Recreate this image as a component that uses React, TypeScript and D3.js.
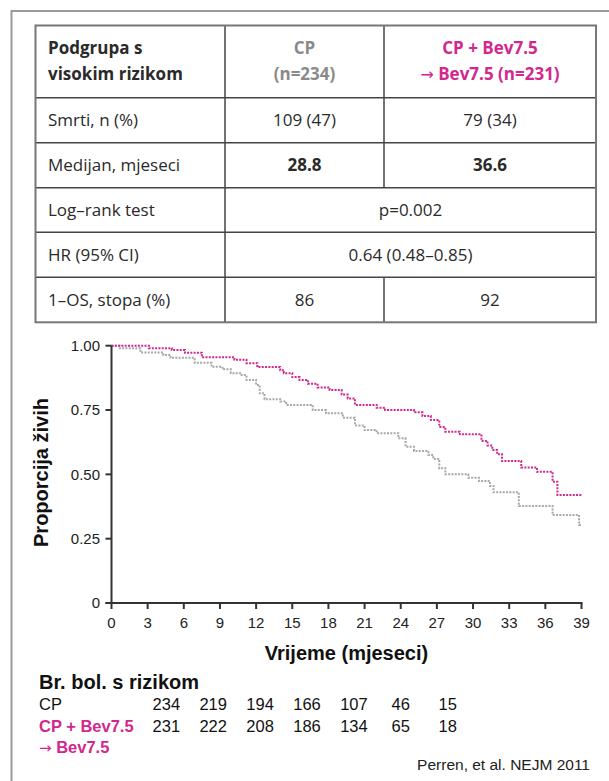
import React from "react";
import * as d3 from "d3";

// ---------- data ----------
const tableRowLabels = ["Smrti, n (%)", "Medijan, mjeseci", "Log–rank test", "HR (95% CI)", "1–OS, stopa (%)"];
const cpValues = ["109 (47)", "28.8", "", "", "86"];
const bevValues = ["79 (34)", "36.6", "", "", "92"];
const spanValues = ["", "", "p=0.002", "0.64 (0.48–0.85)", ""];

const timesCP = [0, 0.7, 2.4, 4.3, 4.9, 6.9, 8.3, 9.2, 9.9, 10.8, 11.2, 12.0, 12.3, 12.7, 14.0, 14.5, 16.7, 17.8, 19.2, 20.2, 21.0, 22.0, 23.8, 24.4, 25.1, 26.3, 26.7, 27.2, 27.7, 29.6, 30.5, 31.4, 31.7, 33.8, 36.6, 38.8, 39];
const survCP = [1.0, 0.99, 0.974, 0.964, 0.953, 0.934, 0.918, 0.908, 0.893, 0.886, 0.867, 0.847, 0.815, 0.792, 0.783, 0.770, 0.750, 0.737, 0.720, 0.690, 0.672, 0.660, 0.640, 0.607, 0.591, 0.575, 0.560, 0.524, 0.500, 0.487, 0.474, 0.455, 0.430, 0.377, 0.342, 0.303, 0.303];

const timesBev = [0, 3.1, 5.0, 6.1, 7.5, 10.2, 11.2, 12.1, 14.0, 14.3, 15.0, 15.6, 16.3, 17.1, 18.1, 19.1, 19.6, 20.2, 22.0, 22.7, 25.1, 25.8, 26.5, 27.2, 27.7, 28.9, 30.7, 31.2, 31.6, 32.0, 32.4, 34.0, 35.3, 36.6, 37.0, 39];
const survBev = [1.0, 0.990, 0.983, 0.973, 0.955, 0.945, 0.932, 0.917, 0.905, 0.893, 0.878, 0.867, 0.852, 0.838, 0.828, 0.810, 0.795, 0.770, 0.759, 0.750, 0.741, 0.727, 0.711, 0.684, 0.666, 0.656, 0.630, 0.612, 0.595, 0.578, 0.552, 0.527, 0.510, 0.471, 0.420, 0.420];

const xTicks = [0, 3, 6, 9, 12, 15, 18, 21, 24, 27, 30, 33, 36, 39];
const yTicks = [0, 0.25, 0.5, 0.75, 1.0];
const yTickLabels = ["0", "0.25", "0.50", "0.75", "1.00"];

const riskCP = [234, 219, 194, 166, 107, 46, 15];
const riskBev = [231, 222, 208, 186, 134, 65, 18];

// ---------- style ----------
const MAGENTA = "#d2288e";
const GRAY_TXT = "#8a8a8a";
const TFONT = "'Open Sans', 'Noto Sans', sans-serif";
const AFONT = "'Liberation Sans', Arial, sans-serif";
const ARROWFONT = "'DejaVu Sans', sans-serif";

export default function App() {
  const W = 609, H = 781;
  // table geometry
  const tL = 35.5, tR = 596, tT = 25.5;
  const colX = [tL, 225, 384, tR];
  const rowY = [tT, 97.7, 142.7, 187.7, 232.3, 277.3, 322.3];

  // plot scales
  const x = d3.scaleLinear().domain([0, 39]).range([111.5, 581.5]);
  const y = d3.scaleLinear().domain([0, 1]).range([603, 345.7]);
  const line = d3.line<[number, number]>()
    .x(d => x(d[0]))
    .y(d => y(d[1]))
    .curve(d3.curveStepAfter);
  const cpPath = line(timesCP.map((t, i) => [t, survCP[i]]) as [number, number][]) || "";
  const bevPath = line(timesBev.map((t, i) => [t, survBev[i]]) as [number, number][]) || "";

  const riskX = d3.scaleLinear().domain([0, 6]).range([166.3, 447.7]);

  const txt = "#2a2a2a";

  return (
    <div style={{ position: "absolute", left: 0, top: 0 }}>
      <svg width={W} height={H} style={{ display: "block", background: "#fff" }}>
        {/* outer frame */}
        <path d={`M11.5,${H} L11.5,11 L${W},11`} fill="none" stroke="#9a9a9a" strokeWidth={2} />

        {/* table inner lines */}
        {rowY.slice(1, -1).map((ry, i) => (
          <line key={"r" + i} x1={tL} x2={tR} y1={ry} y2={ry} stroke="#444" strokeWidth={1.5} />
        ))}
        <line x1={colX[1]} x2={colX[1]} y1={tT} y2={rowY[6]} stroke="#444" strokeWidth={1.5} />
        <line x1={colX[2]} x2={colX[2]} y1={tT} y2={rowY[3]} stroke="#444" strokeWidth={1.5} />
        <line x1={colX[2]} x2={colX[2]} y1={rowY[5]} y2={rowY[6]} stroke="#444" strokeWidth={1.5} />
        <rect x={tL} y={tT} width={tR - tL} height={rowY[6] - tT} fill="none" stroke="#777" strokeWidth={2} />

        {/* header */}
        <g fontFamily={TFONT} fontSize={17} fontWeight="bold">
          <text x={48} y={54} fill={txt}>Podgrupa s</text>
          <text x={48} y={80} fill={txt}>visokim rizikom</text>
          <text x={(colX[1] + colX[2]) / 2} y={54} fill={GRAY_TXT} textAnchor="middle">CP</text>
          <text x={(colX[1] + colX[2]) / 2} y={80} fill={GRAY_TXT} textAnchor="middle">(n=234)</text>
          <text x={(colX[2] + colX[3]) / 2} y={54} fill={MAGENTA} textAnchor="middle">CP + Bev7.5</text>
          <text x={(colX[2] + colX[3]) / 2} y={80} fill={MAGENTA} textAnchor="middle">
            <tspan fontFamily={ARROWFONT} fontWeight="normal" fontSize={16}>→</tspan> Bev7.5 (n=231)
          </text>
        </g>
        {/* body */}
        <g fontFamily={TFONT} fontSize={17} fill={txt}>
          {tableRowLabels.map((lab, i) => {
            const cy = (rowY[i + 1] + rowY[i + 2]) / 2 + 6;
            return (
              <g key={"row" + i}>
                <text x={48} y={cy}>{lab}</text>
                {cpValues[i] && (
                  <text x={(colX[1] + colX[2]) / 2} y={cy} textAnchor="middle" fontWeight={i === 1 ? "bold" : "normal"}>{cpValues[i]}</text>
                )}
                {bevValues[i] && (
                  <text x={(colX[2] + colX[3]) / 2} y={cy} textAnchor="middle" fontWeight={i === 1 ? "bold" : "normal"}>{bevValues[i]}</text>
                )}
                {spanValues[i] && (
                  <text x={(colX[1] + colX[3]) / 2} y={cy} textAnchor="middle">{spanValues[i]}</text>
                )}
              </g>
            );
          })}
        </g>

        {/* curves */}
        <path d={cpPath} fill="none" stroke="#a8a8a8" strokeWidth={2} strokeDasharray="2 1.3" />
        <path d={bevPath} fill="none" stroke={MAGENTA} strokeWidth={2} strokeDasharray="2 1.3" />

        {/* axes */}
        <g stroke="#333" strokeWidth={2}>
          <line x1={x(0)} x2={x(0)} y1={y(1)} y2={y(0)} />
          <line x1={x(0) - 6} x2={x(39) + 1} y1={y(0)} y2={y(0)} />
          {yTicks.map((t, i) => (
            <line key={"yt" + i} x1={x(0) - 6} x2={x(0)} y1={y(t)} y2={y(t)} />
          ))}
          {xTicks.map((t, i) => (
            <line key={"xt" + i} x1={x(t)} x2={x(t)} y1={y(0)} y2={y(0) + 6} />
          ))}
        </g>
        <g fontFamily={AFONT} fontSize={15} fill="#222">
          {yTicks.map((t, i) => (
            <text key={"yl" + i} x={100} y={y(t)} dy="0.35em" textAnchor="end">{yTickLabels[i]}</text>
          ))}
          {xTicks.map((t, i) => (
            <text key={"xl" + i} x={x(t)} y={628} textAnchor="middle">{t}</text>
          ))}
        </g>
        <text x={0} y={0} transform={`translate(48,472.5) rotate(-90)`} textAnchor="middle"
          fontFamily={AFONT} fontSize={20} fontWeight="bold" fill="#111">Proporcija živih</text>
        <text x={(x(0) + x(39)) / 2} y={660} textAnchor="middle"
          fontFamily={AFONT} fontSize={20} fontWeight="bold" fill="#111">Vrijeme (mjeseci)</text>

        {/* risk table */}
        <g fontFamily={AFONT} fill="#111">
          <text x={39} y={689} fontSize={20} fontWeight="bold">Br. bol. s rizikom</text>
          <text x={39} y={710} fontSize={16.5}>CP</text>
          <text x={39} y={731.5} fontSize={16.5} fontWeight="bold" fill={MAGENTA}>CP + Bev7.5</text>
          <text x={39} y={752.5} fontSize={16.5} fontWeight="bold" fill={MAGENTA}>
            <tspan fontFamily={ARROWFONT} fontWeight="normal" fontSize={15}>→</tspan> Bev7.5
          </text>
          {riskCP.map((v, i) => (
            <text key={"rc" + i} x={riskX(i)} y={710} fontSize={16.5} textAnchor="middle">{v}</text>
          ))}
          {riskBev.map((v, i) => (
            <text key={"rb" + i} x={riskX(i)} y={731.5} fontSize={16.5} textAnchor="middle">{v}</text>
          ))}
          <text x={590} y={770} fontSize={15.5} textAnchor="end" fill="#222">Perren, et al. NEJM 2011</text>
        </g>
      </svg>
    </div>
  );
}
